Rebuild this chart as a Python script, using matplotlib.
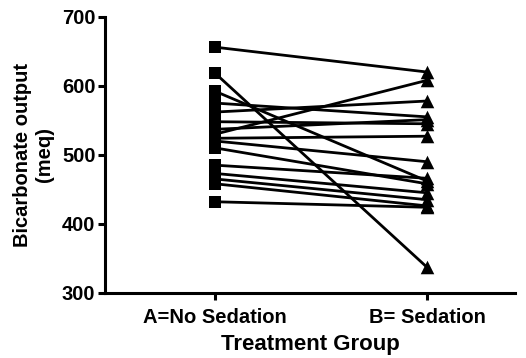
import matplotlib
matplotlib.use("Agg")
import matplotlib.pyplot as plt

groups = ["A=No Sedation", "B= Sedation"]

# paired bicarbonate output per patient (meq)
no_sedation = [656, 618, 592, 575, 562, 548, 530, 537, 524, 520, 510, 485, 473, 465, 458, 432]
sedation    = [620, 337, 462, 555, 578, 545, 608, 551, 527, 490, 458, 466, 445, 435, 426, 424]

plt.rcParams["font.family"] = ["Liberation Sans", "DejaVu Sans"]
plt.rcParams["font.weight"] = "bold"

fig = plt.figure(figsize=(5.26, 3.58), dpi=100)
ax = fig.add_axes([0.20, 0.182, 0.779, 0.771])

for a, b in zip(no_sedation, sedation):
    ax.plot([0, 1], [a, b], color="black", lw=2.0, zorder=1)
ax.scatter([0] * len(no_sedation), no_sedation, marker="s", s=80,
           color="black", zorder=2, linewidths=0)
ax.scatter([1] * len(sedation), sedation, marker="^", s=95,
           color="black", zorder=2, linewidths=0)

ax.set_xlim(-0.52, 1.415)
ax.set_ylim(300, 700)
ax.set_yticks([300, 400, 500, 600, 700])
ax.set_xticks([0, 1])
ax.set_xticklabels(groups)

for side in ("top", "right"):
    ax.spines[side].set_visible(False)
for side in ("left", "bottom"):
    ax.spines[side].set_linewidth(2.2)
ax.tick_params(width=2.2, length=5, labelsize=14.5, pad=2)
ax.tick_params(axis="x", pad=6)

ax.set_xlabel("Treatment Group", fontsize=16, fontweight="bold", labelpad=5)
ax.set_ylabel("Bicarbonate output\n(meq)", fontsize=14.5, fontweight="bold", labelpad=6)

fig.savefig("out.png", dpi=100)
